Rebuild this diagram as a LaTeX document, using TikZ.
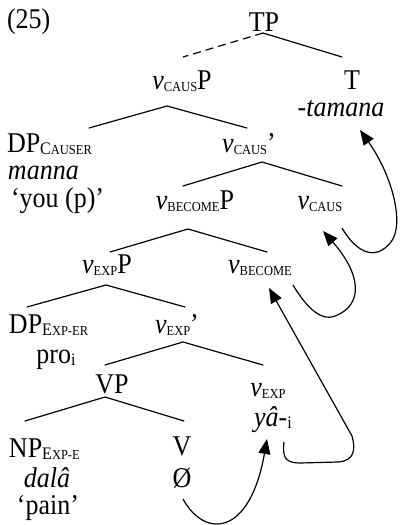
\documentclass[tikz,border=0pt]{standalone}
\usepackage{fontspec}
\setmainfont{Liberation Serif}
\usetikzlibrary{arrows.meta,calc}
\newcommand\subx[1]{\raisebox{-2pt}[\height][0pt]{\fontsize{16}{16}\selectfont #1}}
\newcommand\smc[1]{{\fontsize{12.5}{13}\selectfont #1}}
\newcommand\tx[1]{\scalebox{1}[1.1]{#1}}
\tikzset{
  lbl/.style={anchor=base, inner sep=0pt, outer sep=0pt, font=\fontsize{26}{30}\selectfont},
  lblw/.style={lbl, anchor=base west},
  branch/.style={line width=1.2pt, line cap=round},
  dbranch/.style={branch, line cap=butt, dash pattern=on 8pt off 5pt},
  mvarrow/.style={line width=1.2pt, -{Triangle[length=15pt,width=12pt]}}
}
\begin{document}
\begin{tikzpicture}[x=1pt,y=-1pt]
\useasboundingbox (0,0) rectangle (401,525);
% nodes
\node[lblw] (ex) at (7,28) {\tx{(25)}};
\node[lbl] (TP) at (264,31) {\tx{TP}};
\node[lbl] (vcP) at (182,89) {\tx{\textit{v}\subx{\smc{CAUS}}P}};
\node[lbl] (T) at (352,89) {\tx{T}};
\node[lbl] (tam) at (341,116) {\tx{\textit{-tamana}}};
\node[lblw] (DPc) at (7,152) {\tx{DP\subx{C\smc{AUSER}}}};
\node[lblw] (manna) at (8,179) {\tx{\textit{manna}}};
\node[lblw] (you) at (11,207) {\tx{‘you (p)’}};
\node[lbl] (vcbar) at (249,152) {\tx{\textit{v}\subx{\smc{CAUS}}’}};
\node[lbl] (vbP) at (195,209) {\tx{\textit{v}\subx{\smc{BECOME}}P}};
\node[lbl] (vc) at (320,209) {\tx{\textit{v}\subx{\smc{CAUS}}}};
\node[lbl] (veP) at (107,273) {\tx{\textit{v}\subx{\smc{EXP}}P}};
\node[lbl] (vb) at (260,273) {\tx{\textit{v}\subx{\smc{BECOME}}}};
\node[lblw] (DPe) at (9,333) {\tx{DP\subx{E\smc{XP-ER}}}};
\node[lbl] (vebar) at (177,333) {\tx{\textit{v}\subx{\smc{EXP}}’}};
\node[lbl] (pro) at (56,363) {\tx{pro\subx{i}}};
\node[lbl] (VP) at (112,393) {\tx{VP}};
\node[lbl] (ve) at (268,396) {\tx{\textit{v}\subx{\smc{EXP}}}};
\node[lbl] (ya) at (273,426) {\tx{\textit{yâ}-\subx{i}}};
\node[lblw] (NP) at (9,457) {\tx{NP\subx{E\smc{XP-E}}}};
\node[lbl] (V) at (182,455) {\tx{V}};
\node[lbl] (dala) at (47,487) {\tx{\textit{dalâ}}};
\node[lbl] (O) at (182,487) {\tx{Ø}};
\node[lbl] (pain) at (48,514) {\tx{‘pain’}};
% tree branches
\draw[dbranch] ($(TP.base)+(-1,2)$) -- ($(vcP.base)+(1,-32)$);
\draw[branch] ($(TP.base)+(-1,2)$) -- ($(T.base)+(-10,-32)$);
\draw[branch] ($(DPc.base west)+(82,-24)$) -- ($(vcP.base)+(-15,17)$) -- ($(vcbar.base)+(-2,-24)$);
\draw[branch] ($(vbP.base)+(-12,-23)$) -- ($(vcbar.base)+(13,10)$) -- ($(vc.base)+(22,-23)$);
\draw[branch] ($(veP.base)+(3,-21)$) -- ($(vbP.base)+(-7,20)$) -- ($(vb.base)+(7,-21)$);
\draw[branch] ($(DPe.base west)+(18,-26)$) -- ($(veP.base)+(-1,12)$) -- ($(vebar.base)+(8,-26)$);
\draw[branch] ($(VP.base)+(-7,-28)$) -- ($(vebar.base)+(6,9)$) -- ($(ve.base)+(-5,-31)$);
\draw[branch] ($(NP.base west)+(16,-36)$) -- ($(VP.base)+(-7,4)$) -- ($(V.base)+(2,-34)$);
% movement arrows
\draw[mvarrow] ($(vc.base)+(22,19)$) .. controls +(14,24) and +(-16,20) .. (391,242)
   .. controls +(14,-18) and +(32,45) .. ($(tam.base)+(19,14)$);
\draw[mvarrow] ($(vb.base)+(33,12)$) .. controls +(12,20) and +(-15,6) .. (335,316)
   .. controls +(29,-11) and +(38,43) .. ($(vc.base)+(3,22)$);
\draw[mvarrow] ($(ya.base)+(11,16)$) .. controls +(-2,16) and +(-14,0) .. (300,463) -- (338,462)
   .. controls +(16,-1) and +(4,14) .. (352,436) -- ($(vb.base)+(9,15)$);
\draw[mvarrow] ($(O.base)+(1,12)$) .. controls +(22,40) and +(-17,97) .. ($(ya.base)+(-6,13)$);
\end{tikzpicture}
\end{document}
